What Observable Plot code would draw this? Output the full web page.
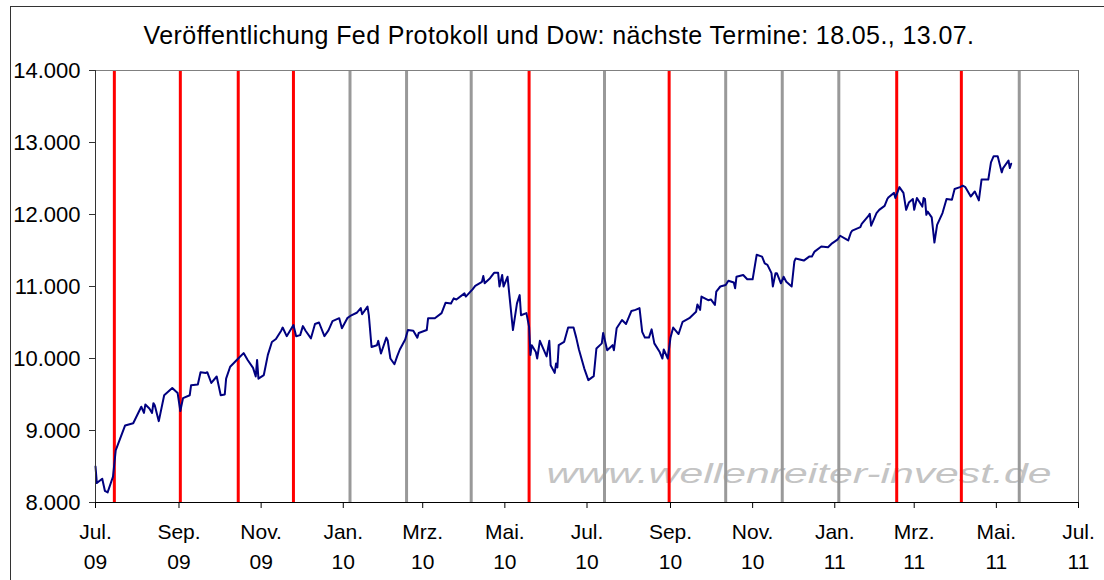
<!DOCTYPE html>
<html>
<head>
<meta charset="utf-8">
<script src="https://cdn.jsdelivr.net/npm/d3@7"></script>
<script src="https://cdn.jsdelivr.net/npm/@observablehq/plot@0.6"></script>
<style>
  html, body { margin: 0; padding: 0; background: #fff; }
  #wrap { position: relative; width: 1104px; height: 580px; overflow: hidden; background: #fff; font-family: "Liberation Sans", Arial, sans-serif; }
  #frame { position: absolute; left: 10px; top: 6px; width: 1200px; height: 1000px; border: 1px solid #333; box-sizing: border-box; }
  #title { position: absolute; left: 10px; width: 1098px; top: 23px; height: 25px; line-height: 25px; font-size: 25px; letter-spacing: 0.4px; text-align: center; color: #000; white-space: nowrap; }
  #chart { position: absolute; left: 0; top: 50px; }
</style>
</head>
<body>
<div id="wrap">
  <div id="frame"></div>
  <div id="title">Veröffentlichung Fed Protokoll und Dow: nächste Termine: 18.05., 13.07.</div>
  <div id="chart"></div>
</div>
<script>
// ---- data ----
const dowDates = [
"2009-07-01","2009-07-02","2009-07-06","2009-07-08","2009-07-10","2009-07-13","2009-07-14","2009-07-16","2009-07-23","2009-07-29",
"2009-08-04","2009-08-06","2009-08-07","2009-08-10","2009-08-12","2009-08-13","2009-08-14","2009-08-17","2009-08-21","2009-08-27","2009-08-31",
"2009-09-02","2009-09-04","2009-09-09","2009-09-10","2009-09-15","2009-09-17","2009-09-21","2009-09-22","2009-09-25","2009-09-29",
"2009-10-02","2009-10-05","2009-10-06","2009-10-09","2009-10-15","2009-10-19","2009-10-22","2009-10-26","2009-10-28","2009-10-29","2009-10-30",
"2009-11-03","2009-11-06","2009-11-09","2009-11-12","2009-11-16","2009-11-17","2009-11-20","2009-11-25","2009-11-27","2009-11-30",
"2009-12-02","2009-12-04","2009-12-08","2009-12-11","2009-12-14","2009-12-18","2009-12-21","2009-12-24","2009-12-29","2009-12-31",
"2010-01-04","2010-01-07","2010-01-11","2010-01-14","2010-01-15","2010-01-19","2010-01-20","2010-01-22","2010-01-26","2010-01-27","2010-01-29",
"2010-02-02","2010-02-03","2010-02-05","2010-02-08","2010-02-10","2010-02-12","2010-02-16","2010-02-18","2010-02-22","2010-02-25","2010-02-26",
"2010-03-04","2010-03-05","2010-03-10","2010-03-15","2010-03-18","2010-03-22","2010-03-24","2010-03-26",
"2010-04-01","2010-04-02","2010-04-07","2010-04-09","2010-04-14","2010-04-15","2010-04-16","2010-04-20","2010-04-23","2010-04-26","2010-04-27","2010-04-29","2010-04-30",
"2010-05-03","2010-05-07","2010-05-10","2010-05-12","2010-05-13","2010-05-17","2010-05-19","2010-05-20","2010-05-21","2010-05-24","2010-05-25","2010-05-27",
"2010-06-01","2010-06-03","2010-06-04","2010-06-07","2010-06-08","2010-06-09","2010-06-10","2010-06-14","2010-06-17","2010-06-21","2010-06-23","2010-06-25","2010-06-29",
"2010-07-02","2010-07-06","2010-07-08","2010-07-12","2010-07-13","2010-07-16","2010-07-20","2010-07-21","2010-07-23","2010-07-27","2010-07-30",
"2010-08-03","2010-08-06","2010-08-09","2010-08-11","2010-08-13","2010-08-16","2010-08-18","2010-08-20","2010-08-24","2010-08-26","2010-08-27","2010-08-30",
"2010-09-01","2010-09-03","2010-09-07","2010-09-10","2010-09-15","2010-09-20","2010-09-21","2010-09-23","2010-09-24","2010-09-29",
"2010-10-01","2010-10-04","2010-10-05","2010-10-08","2010-10-12","2010-10-14","2010-10-18","2010-10-19","2010-10-20","2010-10-25","2010-10-28",
"2010-11-01","2010-11-04","2010-11-08","2010-11-10","2010-11-12","2010-11-15","2010-11-16","2010-11-18","2010-11-19","2010-11-22","2010-11-24","2010-11-26","2010-11-30",
"2010-12-02","2010-12-03","2010-12-09","2010-12-13","2010-12-15","2010-12-17","2010-12-22","2010-12-27","2010-12-30",
"2011-01-03","2011-01-05","2011-01-10","2011-01-11","2011-01-13","2011-01-14","2011-01-20","2011-01-21","2011-01-26","2011-01-27","2011-01-28",
"2011-02-01","2011-02-03","2011-02-07","2011-02-09","2011-02-10","2011-02-14","2011-02-15","2011-02-18","2011-02-21","2011-02-23","2011-02-25","2011-02-28",
"2011-03-01","2011-03-03","2011-03-07","2011-03-08","2011-03-09","2011-03-10","2011-03-11","2011-03-14","2011-03-16","2011-03-18","2011-03-22","2011-03-25","2011-03-29","2011-03-31",
"2011-04-04","2011-04-06","2011-04-08","2011-04-12","2011-04-15","2011-04-18","2011-04-20","2011-04-25","2011-04-27","2011-04-29",
"2011-05-02","2011-05-05","2011-05-06","2011-05-10","2011-05-11","2011-05-12"
];
const dowValues = [
8500,8270,8330,8160,8140,8305,8360,8725,9070,9100,
9330,9245,9360,9305,9245,9380,9350,9130,9490,9590,9520,
9270,9450,9490,9630,9640,9810,9800,9810,9660,9750,
9490,9500,9720,9885,10000,10075,9980,9870,9750,9980,9720,
9770,10050,10230,10270,10390,10430,10310,10465,10310,10325,
10450,10385,10280,10480,10500,10310,10390,10520,10560,10420,
10560,10600,10635,10700,10615,10720,10600,10160,10185,10245,10070,
10290,10250,10000,9920,10030,10125,10265,10395,10385,10290,10355,
10395,10560,10560,10630,10775,10765,10835,10820,
10905,10860,10960,11010,11065,11145,11045,11115,11190,11190,11000,11160,11000,
11135,10395,10765,10880,10600,10630,10440,10050,10185,10090,10000,10245,
10030,10245,9905,9800,9930,9875,10185,10230,10430,10430,10290,10125,9860,
9700,9755,10140,10210,10355,10115,10185,10115,10420,10535,10480,
10660,10675,10700,10370,10290,10290,10405,10210,10090,10000,10125,10000,
10290,10430,10340,10510,10560,10650,10750,10675,10860,10810,
10820,10745,10930,11000,11020,11080,11055,10975,11135,11160,11100,
11100,11440,11415,11320,11300,11185,11000,11185,11185,11045,11135,11065,11000,
11350,11390,11360,11415,11415,11485,11555,11545,11600,
11650,11705,11650,11640,11750,11775,11825,11870,11980,12010,11845,
12020,12065,12120,12215,12240,12300,12230,12380,12300,12065,12165,12215,
12065,12230,12110,12230,12215,11995,12040,11960,11610,11855,12020,12215,12205,12355,
12380,12400,12380,12250,12320,12195,12485,12485,12725,12810,
12810,12585,12645,12750,12645,12705
];
// Fed minutes release dates (vertical markers)
const fedRedDates = ["2009-07-15","2009-09-02","2009-10-15","2009-11-25","2010-05-19","2010-08-31","2011-02-16","2011-04-05"];
const fedGrayDates = ["2010-01-06","2010-02-17","2010-04-06","2010-07-14","2010-10-12","2010-11-23","2011-01-04","2011-05-18"];
// axes
const xDomain = ["2009-07-01","2011-07-01"];
const xTickDates = ["2009-07-01","2009-09-01","2009-11-01","2010-01-01","2010-03-01","2010-05-01","2010-07-01","2010-09-01","2010-11-01","2011-01-01","2011-03-01","2011-05-01","2011-07-01"];
const xTickMonths = ["Jul.","Sep.","Nov.","Jan.","Mrz.","Mai.","Jul.","Sep.","Nov.","Jan.","Mrz.","Mai.","Jul."];
const xTickYears = ["09","09","09","10","10","10","10","10","10","11","11","11","11"];
const yTicks = [8000,9000,10000,11000,12000,13000,14000];
const yTickLabels = ["8.000","9.000","10.000","11.000","12.000","13.000","14.000"];
const watermark = ["www.wellenreiter-invest.de"];

// ---- build ----
const parse = s => new Date(s + "T00:00:00Z");
const series = dowDates.map((d, i) => ({date: parse(d), value: dowValues[i]}));
const xLabel = new Map(xTickDates.map((d, i) => [+parse(d), xTickMonths[i] + "\n" + xTickYears[i]]));
const yLabel = new Map(yTicks.map((v, i) => [v, yTickLabels[i]]));
const domain = xDomain.map(parse);

const chart = Plot.plot({
  width: 1104,
  height: 530,
  marginLeft: 95,
  marginRight: 26,
  marginTop: 20,
  marginBottom: 78,
  style: {fontFamily: "'Liberation Sans', Arial, sans-serif", fontSize: "21px", color: "#000", background: "transparent"},
  x: {type: "utc", domain, label: null},
  y: {domain: [8000, 14000], label: null},
  marks: [
    Plot.text(watermark, {frameAnchor: "bottom-right", textAnchor: "end", lineAnchor: "bottom", dx: -27, dy: -20,
      fontSize: 27, fontStyle: "italic", fill: "#c4c4c4"}),
    Plot.ruleX(fedGrayDates.map(parse), {stroke: "#999999", strokeWidth: 3}),
    Plot.ruleX(fedRedDates.map(parse), {stroke: "#ff0000", strokeWidth: 3}),
    Plot.line(series, {x: "date", y: "value", stroke: "#000080", strokeWidth: 2}),
    Plot.ruleY([14000], {stroke: "#808080"}),
    Plot.ruleX([domain[1]], {stroke: "#666666"}),
    Plot.ruleY([8000], {stroke: "#000"}),
    Plot.ruleX([domain[0]], {stroke: "#333"}),
    Plot.axisY({ticks: yTicks, tickFormat: v => yLabel.get(v), label: null, tickSize: 6, tickPadding: 9, fontSize: 22, stroke: "#333"}),
    Plot.axisX({ticks: xTickDates.map(parse), tickFormat: d => xLabel.get(+d), label: null, tickSize: 6, tickPadding: 9, lineHeight: 1.43, fontSize: 21})
  ]
});
document.getElementById("chart").appendChild(chart);
// stretch the watermark like the original
chart.querySelectorAll("text").forEach(t => {
  if (t.textContent === watermark[0]) {
    t.setAttribute("textLength", 505);
    t.setAttribute("lengthAdjust", "spacingAndGlyphs");
  }
});
</script>
</body>
</html>
